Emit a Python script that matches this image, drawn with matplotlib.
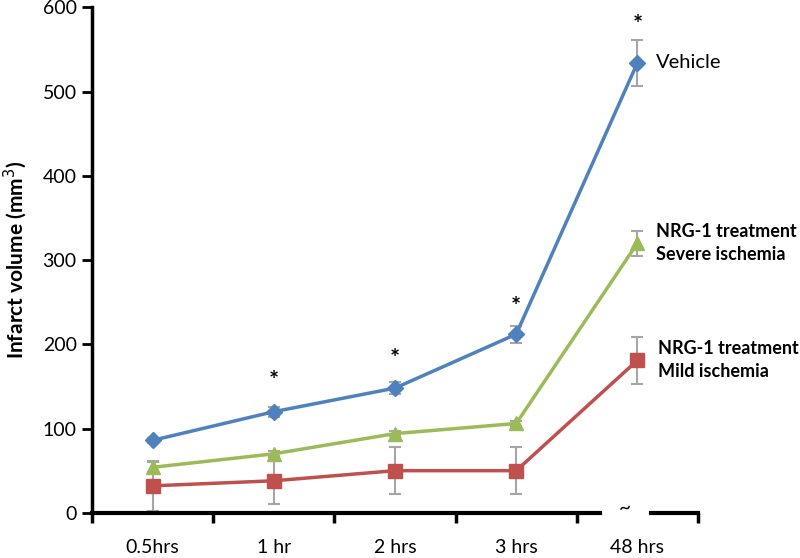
import numpy as np
import matplotlib
matplotlib.use('Agg')
from matplotlib import pyplot as plt

plt.rcParams['font.family'] = ['Lato', 'DejaVu Sans']

times = ['0.5hrs', '1 hr', '2 hrs', '3 hrs', '48 hrs']
vehicle = [86, 120, 148, 212, 534]
vehicle_err = [3, 6, 7, 10, 27]
severe = [54, 70, 94, 106, 320]
severe_err = [6, 3, 3, 3, 15]
mild = [32, 38, 50, 50, 181]
mild_err = [30, 28, 28, 28, 28]
star_x = [1, 2, 3, 4]
star_y = [156, 182, 244, 578]

x = np.arange(len(times))

fig = plt.figure(figsize=(8, 5.58), dpi=100)
ax = fig.add_axes([0.115, 0.081, 0.7575, 0.906])

series = [
    (vehicle, vehicle_err, '#4F81BD', 'D', 8),
    (severe, severe_err, '#9BBB59', '^', 10),
    (mild, mild_err, '#C0504D', 's', 10),
]
for vals, err, col, mk, ms in series:
    ax.errorbar(x, vals, yerr=err, fmt='none', ecolor='#A6A6A6', elinewidth=1.5,
                capsize=4, capthick=1.5, zorder=2)
    ax.plot(x, vals, color=col, lw=2.5, marker=mk, markersize=ms, zorder=3)

for sx, sy in zip(star_x, star_y):
    ax.text(sx, sy, '*', ha='center', va='center', fontsize=17, fontweight='bold')

ax.text(4.15, vehicle[-1], 'Vehicle', fontsize=14.5, va='center', ha='left')
ax.text(4.15, severe[-1], 'NRG-1 treatment\nSevere ischemia', fontsize=13,
        fontweight='bold', va='center', ha='left', linespacing=1.45)
ax.text(4.17, mild[-1], 'NRG-1 treatment\nMild ischemia', fontsize=13,
        fontweight='bold', va='center', ha='left', linespacing=1.45)

ax.set_xlim(-0.5, 4.5)
ax.set_ylim(0, 600)
ax.set_yticks(range(0, 601, 100))
ax.set_xticks(x)
ax.set_xticklabels(times)
ax.set_xticks(np.arange(-0.5, 4.6, 1), minor=True)
ax.tick_params(axis='x', which='major', length=0, pad=19, labelsize=14)
ax.tick_params(axis='x', which='minor', length=7, width=2.5, direction='out')
ax.tick_params(axis='y', length=7, width=2, direction='out', labelsize=14, pad=4)
ax.set_ylabel('Infarct volume (mm$^3$)', fontsize=15, fontweight='bold', labelpad=10)

for s in ['top', 'right', 'bottom']:
    ax.spines[s].set_visible(False)
ax.spines['left'].set_linewidth(2.5)

# broken x axis
ax.plot([-0.5, 3.69], [0, 0], color='black', lw=3, clip_on=False, zorder=5)
ax.plot([4.11, 4.5], [0, 0], color='black', lw=3, clip_on=False, zorder=5)
ax.text(3.9, 5, '~', ha='center', va='center', fontsize=15)

plt.savefig('out.png', dpi=100)
